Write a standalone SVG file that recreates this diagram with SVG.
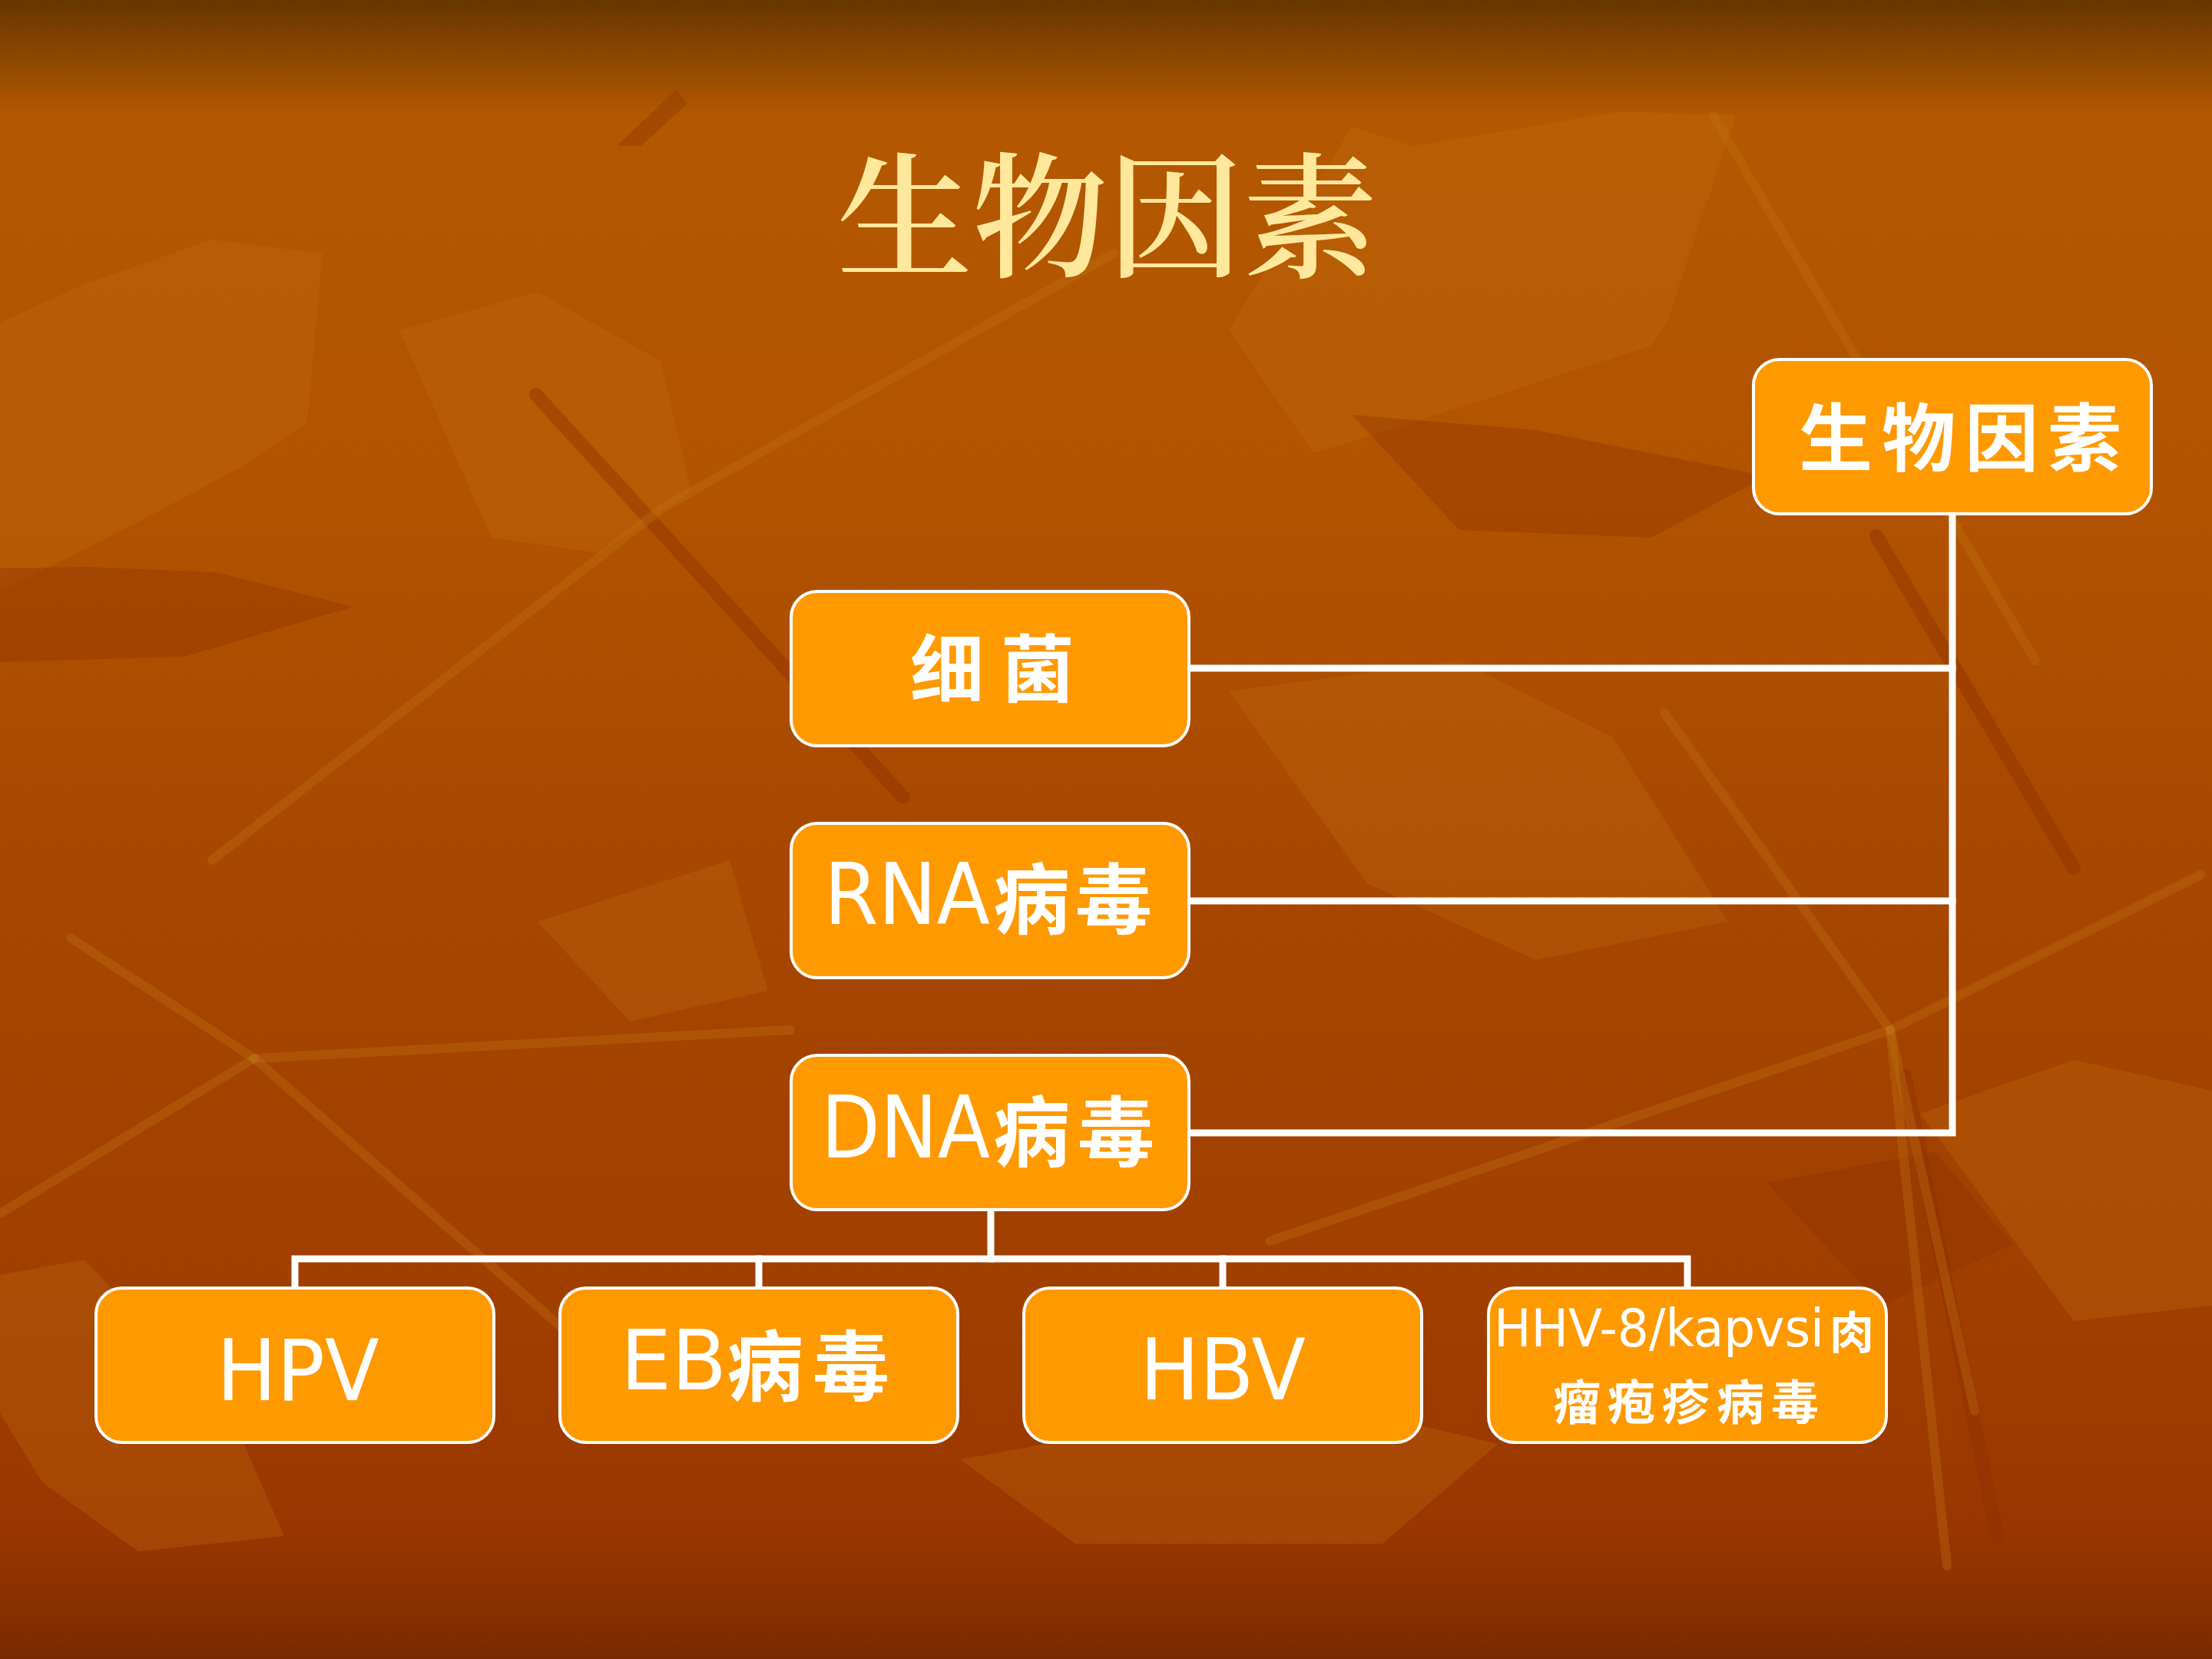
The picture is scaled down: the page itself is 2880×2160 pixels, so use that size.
<svg xmlns="http://www.w3.org/2000/svg" width="2880" height="2160" viewBox="0 0 2880 2160">
<defs>
<linearGradient id="bg" x1="0" y1="0" x2="0" y2="1">
<stop offset="0" stop-color="#683600"/>
<stop offset="0.03" stop-color="#874500"/>
<stop offset="0.07" stop-color="#B35800"/>
<stop offset="0.3" stop-color="#B25300"/>
<stop offset="0.55" stop-color="#A64600"/>
<stop offset="0.8" stop-color="#A03E00"/>
<stop offset="0.92" stop-color="#9A3600"/>
<stop offset="0.97" stop-color="#873000"/>
<stop offset="1" stop-color="#782900"/>
</linearGradient>
<style>
.box{fill:#FF9900;stroke:#FFFFFF;stroke-width:4}
.lat{font-family:"DejaVu Sans","Liberation Sans",sans-serif;fill:#FFFFFF}
.cjk{font-family:"Noto Sans CJK SC","Noto Sans CJK TC",sans-serif;font-weight:700;fill:#FFFFFF}
.title{font-family:"Noto Serif CJK SC","Noto Sans CJK SC",serif;font-weight:600;fill:#FFE89C;font-size:176px}
.con{fill:none;stroke:#FFFFFF;stroke-width:9;stroke-linejoin:miter;stroke-linecap:square}
.lt{fill:#C46E12;opacity:0.3}
.dk{fill:#8A3000;opacity:0.35}
.lb{fill:none;stroke:#C07414;stroke-width:12;opacity:0.35;stroke-linecap:round}
.db{fill:none;stroke:#8E3000;stroke-width:18;opacity:0.45;stroke-linecap:round}
</style>
</defs>
<rect x="0" y="0" width="2880" height="2160" fill="url(#bg)"/>
<g id="background">
<polygon class="lt" points="0,420 110,370 275,312 420,330 400,550 310,610 180,680 70,735 0,770"/>
<polygon class="dk" points="0,740 110,738 280,745 460,790 240,855 0,862"/>
<polygon class="lt" points="1600,430 1760,165 1840,190 2110,145 2260,150 2170,420 2150,450 1840,550 1710,590"/>
<polygon class="lt" points="520,430 700,380 860,470 900,640 780,720 640,700"/>
<polygon class="dk" points="803,190 880,117 895,135 835,190"/>
<polygon class="lt" points="1600,900 1900,860 2100,960 2250,1200 2000,1250 1780,1150"/>
<polygon class="lt" points="110,1640 0,1660 0,1840 55,1930 180,2020 370,2000 300,1840"/>
<polygon class="lt" points="700,1200 950,1120 1000,1290 820,1330"/>
<polygon class="dk" points="1760,540 2000,560 2300,620 2150,700 1900,690"/>
<polygon class="lt" points="1250,1900 1700,1820 1950,1880 1800,2010 1400,2010"/>
<polygon class="lt" points="2500,1450 2700,1380 2880,1420 2880,1700 2700,1720"/>
<polygon class="dk" points="2300,1540 2520,1500 2620,1620 2450,1700"/>
<path class="db" d="M698 514 L1176 1038"/>
<path class="db" d="M2443 698 L2700 1130"/>
<path class="db" d="M2480 1400 L2600 2000"/>
<path class="lb" d="M276 1120 L863 661 L1450 330"/>
<path class="lb" d="M331 1378 L1029 1341"/>
<path class="lb" d="M331 1378 L92 1221"/>
<path class="lb" d="M331 1378 L771 1763"/>
<path class="lb" d="M331 1378 L0 1580"/>
<path class="lb" d="M2461 1341 L2167 928"/>
<path class="lb" d="M2461 1341 L2865 1139"/>
<path class="lb" d="M2461 1341 L1653 1616"/>
<path class="lb" d="M2461 1341 L2571 1837"/>
<path class="lb" d="M2461 1341 L2535 2039"/>
<path class="lb" d="M2230 150 L2650 860"/>
</g>
<g id="title">
<text class="title" x="1442" y="347" text-anchor="middle">生物因素</text>
</g>
<g id="connectors">
<path class="con" d="M2542 669 V1475 H1548"/>
<path class="con" d="M2542 870 H1548"/>
<path class="con" d="M2542 1173 H1548"/>
<path class="con" d="M1290 1576 V1639"/>
<path class="con" d="M384 1677 V1639 H2197 V1677"/>
<path class="con" d="M988 1639 V1677"/>
<path class="con" d="M1592 1639 V1677"/>
</g>
<g id="node-root">
<rect class="box" x="2283" y="468" width="518" height="201" rx="34"/>
<text class="cjk" font-size="96" x="2342" y="605" letter-spacing="12">生物因素</text>
</g>
<g id="node-bacteria">
<rect class="box" x="1030" y="770" width="518" height="201" rx="34"/>
<text class="cjk" font-size="96" x="1185" y="906" letter-spacing="22">细菌</text>
</g>
<g id="node-rna">
<rect class="box" x="1030" y="1072" width="518" height="201" rx="34"/>
<text x="1073" y="1203"><tspan class="lat" font-size="110" textLength="216" lengthAdjust="spacingAndGlyphs">RNA</tspan><tspan class="cjk" font-size="100" x="1293" y="1208" letter-spacing="7">病毒</tspan></text>
</g>
<g id="node-dna">
<rect class="box" x="1030" y="1374" width="518" height="201" rx="34"/>
<text x="1069" y="1507"><tspan class="lat" font-size="112" textLength="220" lengthAdjust="spacingAndGlyphs">DNA</tspan><tspan class="cjk" font-size="100" x="1293" y="1511" letter-spacing="10">病毒</tspan></text>
</g>
<g id="node-hpv">
<rect class="box" x="125" y="1677" width="518" height="201" rx="34"/>
<text class="lat" font-size="111" x="388" y="1823" text-anchor="middle" textLength="212" lengthAdjust="spacingAndGlyphs">HPV</text>
</g>
<g id="node-eb">
<rect class="box" x="729" y="1677" width="518" height="201" rx="34"/>
<text x="808" y="1809"><tspan class="lat" font-size="108" textLength="138" lengthAdjust="spacingAndGlyphs">EB</tspan><tspan class="cjk" font-size="100" x="946" y="1816" letter-spacing="12">病毒</tspan></text>
</g>
<g id="node-hbv">
<rect class="box" x="1333" y="1677" width="518" height="201" rx="34"/>
<text class="lat" font-size="111" x="1592" y="1822" text-anchor="middle" textLength="216" lengthAdjust="spacingAndGlyphs">HBV</text>
</g>
<g id="node-hhv8">
<rect class="box" x="1938" y="1677" width="518" height="201" rx="34"/>
<text x="1945" y="1753"><tspan class="lat" font-size="68" textLength="430" lengthAdjust="spacingAndGlyphs">HHV-8/kapvsi</tspan><tspan class="cjk" font-size="58" x="2382" y="1756">肉</tspan><tspan class="cjk" font-size="62" x="2022" y="1849" letter-spacing="9">瘤疱疹病毒</tspan></text>
</g>
</svg>
